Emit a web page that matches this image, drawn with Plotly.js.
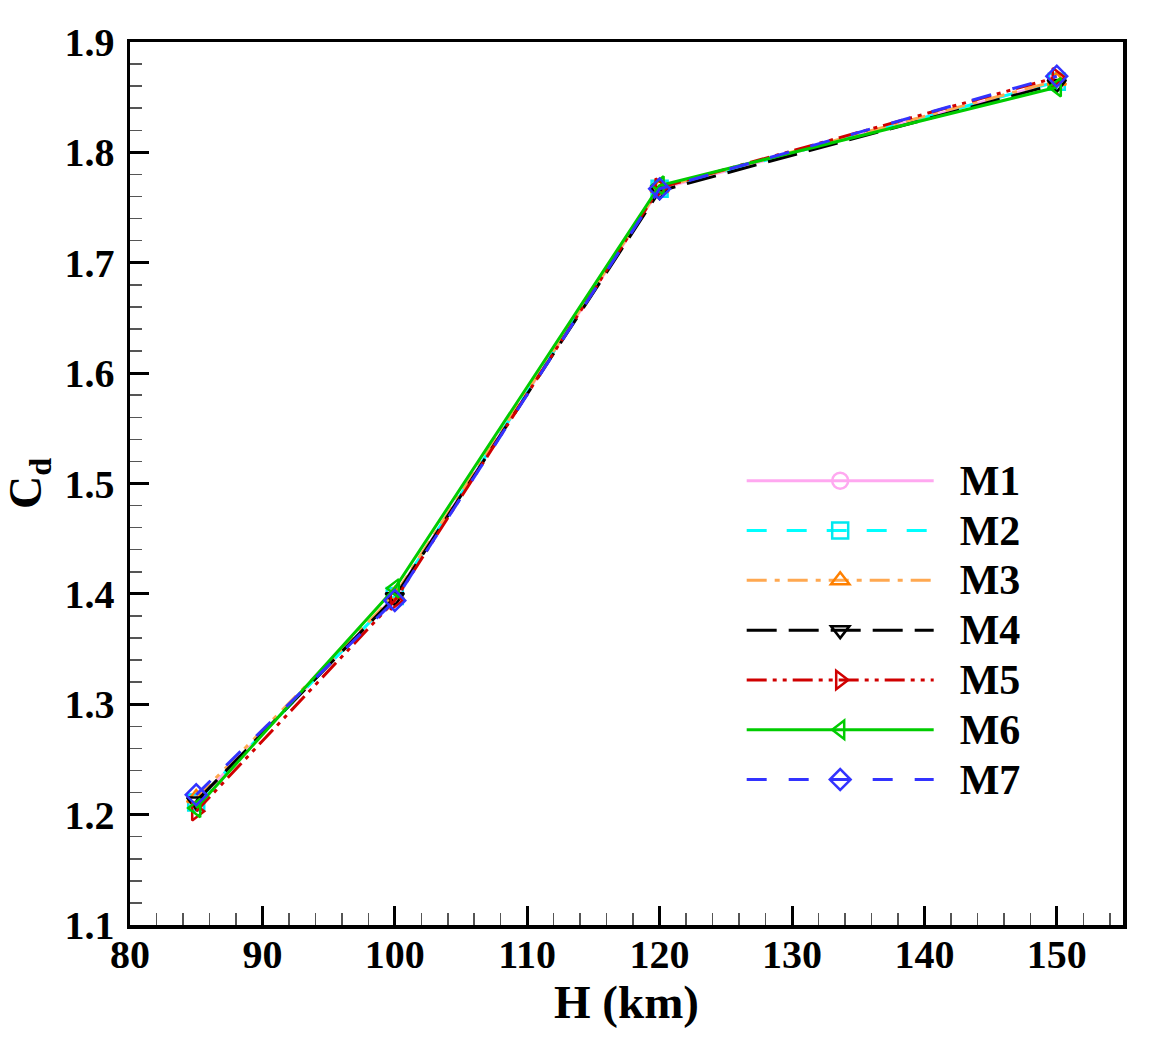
<!DOCTYPE html>
<html>
<head>
<meta charset="utf-8">
<script src="https://cdn.plot.ly/plotly-3.0.1.min.js"></script>
<style>
  body { margin: 0; background: #fff; }
  #PlotDiv { width: 1171px; height: 1041px; }
</style>
</head>
<body>
<div id="PlotDiv"></div>
<script>
// altitude (km) and drag coefficient for each model
const H = [85, 100, 120, 150];
const M1 = [1.211, 1.398, 1.767, 1.864];
const M2 = [1.211, 1.398, 1.767, 1.864];
const M3 = [1.215, 1.399, 1.768, 1.865];
const M4 = [1.212, 1.397, 1.765, 1.862];
const M5 = [1.203, 1.394, 1.768, 1.868];
const M6 = [1.206, 1.405, 1.770, 1.859];
const M7 = [1.218, 1.394, 1.767, 1.869];

const names = ['M1', 'M2', 'M3', 'M4', 'M5', 'M6', 'M7'];
const series = [M1, M2, M3, M4, M5, M6, M7];
const lineColors = ['#FFA8F0', '#00FFFF', '#FFA850', '#000000', '#D00000', '#00CC00', '#3333FF'];
const markColors = ['#FFA8F0', '#00E8F0', '#FF8000', '#000000', '#D00000', '#00CC00', '#3333FF'];
const symbols = ['circle-open', 'square-open', 'triangle-up-open', 'triangle-down-open',
                 'triangle-right-open', 'triangle-left-open', 'diamond-open'];
const dashes = ['solid', '20px,20px', '20px,8px,5px,8px', '30px,12px',
                '20px,6px,4px,6px,4px,6px', 'solid', '20px,22px'];

const pad = '\u00A0\u00A0';  // gap between legend line and label

let traces = [];
for (let i = 0; i < series.length; i++) {
  traces.push({
    x: H,
    y: series[i],
    name: '<span style="font-size:42px">' + pad + names[i] + '</span>',
    type: 'scatter',
    mode: 'lines+markers',
    line: { color: lineColors[i], width: 3, dash: dashes[i] },
    marker: { symbol: symbols[i], size: 16, color: markColors[i], line: { width: 2.5, color: markColors[i] } }
  });
}

const serif = 'Liberation Serif, Times New Roman, serif';

let layout = {
  width: 1171,
  height: 1041,
  paper_bgcolor: '#fff',
  plot_bgcolor: '#fff',
  margin: { l: 130, r: 48, t: 42, b: 116 },
  showlegend: true,
  legend: {
    x: 0.616, y: 0.537, xanchor: 'left', yanchor: 'top',
    itemwidth: 187,
    bgcolor: 'rgba(0,0,0,0)',
    font: { family: serif, size: 36, color: '#000', weight: 'bold' }
  },
  xaxis: {
    range: [80, 155],
    tick0: 80, dtick: 10,
    ticks: 'inside', ticklen: 19, tickwidth: 3, tickcolor: '#000',
    minor: { dtick: 2, ticks: 'inside', ticklen: 12, tickwidth: 1.5, tickcolor: '#555' },
    showgrid: false, zeroline: false,
    showline: true, linewidth: 3.5, linecolor: '#000', mirror: true,
    tickfont: { family: serif, size: 40, color: '#000', weight: 'bold' },
    ticklabelstandoff: -9,
    title: { text: '<b>H (km)</b>', font: { family: serif, size: 47, color: '#000' }, standoff: 0 }
  },
  yaxis: {
    range: [1.1, 1.9],
    tick0: 1.1, dtick: 0.1, tickformat: '.1f',
    ticks: 'inside', ticklen: 19, tickwidth: 3, tickcolor: '#000',
    minor: { dtick: 0.02, ticks: 'inside', ticklen: 12, tickwidth: 1.5, tickcolor: '#555' },
    showgrid: false, zeroline: false,
    showline: true, linewidth: 3.5, linecolor: '#000', mirror: true,
    tickfont: { family: serif, size: 40, color: '#000', weight: 'bold' },
    ticklabelstandoff: 4,
    title: { text: '<b>C<sub>d</sub></b>', font: { family: serif, size: 46, color: '#000' }, standoff: 10 }
  }
};

Plotly.newPlot('PlotDiv', traces, layout, { displayModeBar: false, staticPlot: true });
</script>
</body>
</html>
